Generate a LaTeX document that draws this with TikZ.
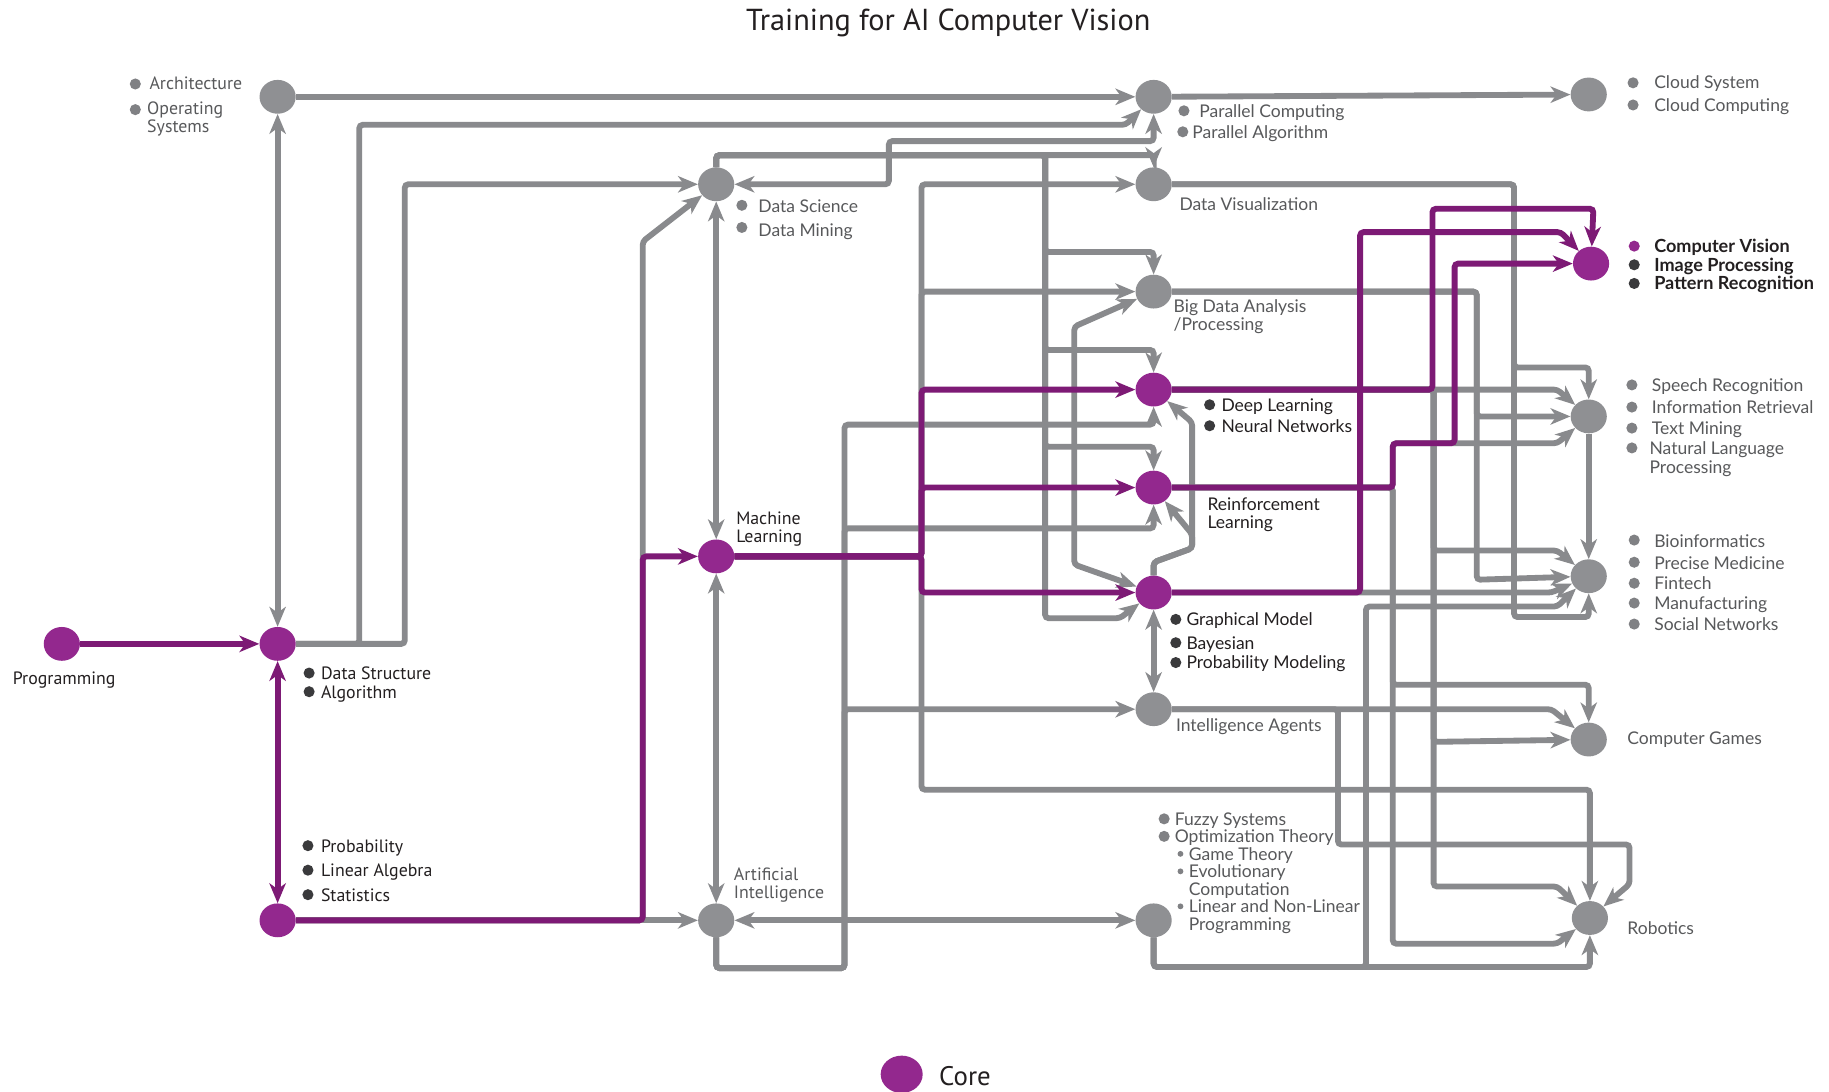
\documentclass[tikz,border=0pt]{standalone}
\usepackage{fontspec}
\setmainfont{PT Sans}
\newfontfamily\lato{Lato}
\usetikzlibrary{arrows.meta,shapes.geometric,backgrounds}
\definecolor{linegray}{HTML}{898A8D}
\definecolor{nodegray}{HTML}{8F9093}
\definecolor{linepurple}{HTML}{7D1A75}
\definecolor{nodepurple}{HTML}{93288E}
\definecolor{textgray}{HTML}{58595B}
\definecolor{textblack}{HTML}{231F20}
\definecolor{bulgray}{HTML}{808184}
\definecolor{buldark}{HTML}{3A3A3C}
\begin{document}
\begin{tikzpicture}[x=1pt,y=-1pt,
  gnode/.style={ellipse, fill=nodegray, minimum width=31pt, minimum height=29pt, inner sep=0pt},
  pnode/.style={gnode, fill=nodepurple},
  tip/.tip={Stealth[length=17pt,width=14pt,inset=5pt]},
  glin/.style={draw=linegray, line width=5pt, rounded corners=3pt},
  garr/.style={glin, -tip},
  gbi/.style={glin, tip-tip},
  plin/.style={draw=linepurple, line width=5pt, rounded corners=3pt},
  parr/.style={plin, -tip},
  pbi/.style={plin, tip-tip},
  gtx/.style={anchor=mid west, inner sep=0pt, yshift=-3pt, text=textgray, font=\lato\fontsize{15}{17}\selectfont},
  btx/.style={anchor=mid west, inner sep=0pt, yshift=-3pt, text=textblack, font=\lato\fontsize{15}{17}\selectfont},
  mgtx/.style={anchor=mid west, inner sep=0pt, yshift=-3pt, text=textgray, font=\fontsize{15.3}{17}\selectfont},
  mbtx/.style={anchor=mid west, inner sep=0pt, yshift=-3pt, text=textblack, font=\fontsize{15.3}{17}\selectfont},
  cvtx/.style={anchor=mid west, inner sep=0pt, yshift=-3pt, text=textblack, font=\lato\bfseries\fontsize{15.5}{17}\selectfont},
  bulg/.style={circle, fill=bulgray, minimum size=9.5pt, inner sep=0pt},
  buld/.style={circle, fill=buldark, minimum size=9.5pt, inner sep=0pt},
  bulp/.style={circle, fill=nodepurple, minimum size=9.5pt, inner sep=0pt},
  bsmall/.style={circle, fill=bulgray, minimum size=5pt, inner sep=0pt}
]
\useasboundingbox (0,0) rectangle (1568,936);

% ---------- nodes ----------
\node[pnode] (prog) at (53,552) {};
\node[pnode] (ds) at (238,552) {};
\node[gnode] (arch) at (238,83) {};
\node[pnode] (math) at (238,789) {};
\node[gnode] (dsci) at (614,158) {};
\node[pnode] (ml) at (614,477) {};
\node[gnode] (ai) at (614,789) {};
\node[gnode] (par) at (989,83) {};
\node[gnode] (cloud) at (1362,81) {};
\node[gnode] (dvis) at (989,158) {};
\node[gnode] (big) at (989,250) {};
\node[pnode] (dl) at (989,334) {};
\node[pnode] (rl) at (989,418) {};
\node[pnode] (gm) at (989,508) {};
\node[gnode] (ia) at (989,608) {};
\node[gnode] (opt) at (989,789) {};
\node[pnode] (cv) at (1364,226) {};
\node[gnode] (nlp) at (1362,357) {};
\node[gnode] (bio) at (1362,494) {};
\node[gnode] (games) at (1362,634) {};
\node[gnode] (rob) at (1363,787) {};

% ---------- title & legend ----------
\node[text=textblack, font=\fontsize{26}{30}\selectfont] (title) at (813,20) {Training for AI Computer Vision};
\node[pnode, minimum width=36pt, minimum height=32pt] (legend) at (773,921) {};
\node[anchor=mid west, inner sep=0pt, yshift=-6pt, text=textblack, font=\fontsize{23}{26}\selectfont] (t-core) at (805,922) {Core};

% ---------- labels ----------
\node[bulg] (b-arch1) at (116,72) {};
\node[mgtx] (t-arch1) at (128,71) {Architecture};
\node[bulg] (b-arch2) at (116,94) {};
\node[mgtx] (t-arch2) at (126,93) {Operating};
\node[mgtx] (t-arch3) at (126,108) {Systems};

\node[bulg] (b-cl1) at (1400,71) {};
\node[gtx] (t-cl1) at (1418,70) {Cloud System};
\node[bulg] (b-cl2) at (1400,90) {};
\node[gtx] (t-cl2) at (1418,90) {Cloud Computing};

\node[bulg] (b-pa1) at (1015,95) {};
\node[gtx] (t-pa1) at (1028,95) {Parallel Computing};
\node[bulg] (b-pa2) at (1014,113) {};
\node[gtx] (t-pa2) at (1022,113) {Parallel Algorithm};

\node[bulg] (b-ds1) at (636,176) {};
\node[gtx] (t-ds1) at (650,177) {Data Science};
\node[bulg] (b-ds2) at (636,195) {};
\node[gtx] (t-ds2) at (650,197) {Data Mining};

\node[gtx] (t-dv) at (1011,175) {Data Visualization};
\node[gtx] (t-bd1) at (1006,262) {Big Data Analysis};
\node[gtx] (t-bd2) at (1006,278) {/Processing};

\node[bulp] (b-cv1) at (1401,211) {};
\node[cvtx] (t-cv1) at (1418,211) {Computer Vision};
\node[buld] (b-cv2) at (1401,227) {};
\node[cvtx] (t-cv2) at (1418,227) {Image Processing};
\node[buld] (b-cv3) at (1401,243) {};
\node[cvtx] (t-cv3) at (1418,243) {Pattern Recognition};

\node[buld] (b-dl1) at (1037,347) {};
\node[btx] (t-dl1) at (1047,347) {Deep Learning};
\node[buld] (b-dl2) at (1037,365) {};
\node[btx] (t-dl2) at (1047,365) {Neural Networks};

\node[btx] (t-rl1) at (1035,432) {Reinforcement};
\node[btx] (t-rl2) at (1035,448) {Learning};

\node[bulg] (b-nl1) at (1399,330) {};
\node[gtx] (t-nl1) at (1416,330) {Speech Recognition};
\node[bulg] (b-nl2) at (1399,349) {};
\node[gtx] (t-nl2) at (1416,349) {Information Retrieval};
\node[bulg] (b-nl3) at (1399,367) {};
\node[gtx] (t-nl3) at (1416,367) {Text Mining};
\node[bulg] (b-nl4) at (1399,384) {};
\node[gtx] (t-nl4) at (1414,384) {Natural Language};
\node[gtx] (t-nl5) at (1414,400) {Processing};

\node[bulg] (b-bi1) at (1401,463) {};
\node[gtx] (t-bi1) at (1418,464) {Bioinformatics};
\node[bulg] (b-bi2) at (1401,482) {};
\node[gtx] (t-bi2) at (1418,483) {Precise Medicine};
\node[bulg] (b-bi3) at (1401,500) {};
\node[gtx] (t-bi3) at (1418,500) {Fintech};
\node[bulg] (b-bi4) at (1401,517) {};
\node[gtx] (t-bi4) at (1418,517) {Manufacturing};
\node[bulg] (b-bi5) at (1401,535) {};
\node[gtx] (t-bi5) at (1418,535) {Social Networks};

\node[mbtx] (t-ml1) at (631,444) {Machine};
\node[mbtx] (t-ml2) at (631,460) {Learning};

\node[buld] (b-gm1) at (1008,531) {};
\node[btx] (t-gm1) at (1017,531) {Graphical Model};
\node[buld] (b-gm2) at (1008,551) {};
\node[btx] (t-gm2) at (1017,551) {Bayesian};
\node[buld] (b-gm3) at (1008,568) {};
\node[btx] (t-gm3) at (1017,568) {Probability Modeling};

\node[gtx] (t-ia) at (1008,622) {Intelligence Agents};
\node[gtx] (t-games) at (1395,633) {Computer Games};
\node[gtx] (t-rob) at (1395,796) {Robotics};

\node[buld] (b-dst1) at (265,577) {};
\node[mbtx] (t-dst1) at (275,577) {Data Structure};
\node[buld] (b-dst2) at (265,593) {};
\node[mbtx] (t-dst2) at (275,593) {Algorithm};

\node[text=textblack, inner sep=0pt, yshift=-2pt, font=\fontsize{15.3}{17}\selectfont] (t-prog) at (55,581) {Programming};

\node[buld] (b-ma1) at (264,725) {};
\node[mbtx] (t-ma1) at (275,725) {Probability};
\node[buld] (b-ma2) at (264,746) {};
\node[mbtx] (t-ma2) at (275,746) {Linear Algebra};
\node[buld] (b-ma3) at (264,767) {};
\node[mbtx] (t-ma3) at (275,767) {Statistics};

\node[mgtx] (t-ai1) at (629,749) {Artificial};
\node[mgtx] (t-ai2) at (629,765) {Intelligence};

\node[bulg] (b-op1) at (998,702) {};
\node[gtx] (t-op1) at (1007,702) {Fuzzy Systems};
\node[bulg] (b-op2) at (998,717) {};
\node[gtx] (t-op2) at (1007,717) {Optimization Theory};
\node[bsmall] (b-op3) at (1012,732) {};
\node[gtx] (t-op3) at (1019,732) {Game Theory};
\node[bsmall] (b-op4) at (1012,747) {};
\node[gtx] (t-op4) at (1019,747) {Evolutionary};
\node[gtx] (t-op5) at (1019,762) {Computation};
\node[bsmall] (b-op6) at (1012,777) {};
\node[gtx] (t-op6) at (1019,777) {Linear and Non-Linear};
\node[gtx] (t-op7) at (1019,792) {Programming};

% ---------- connectors ----------
\begin{scope}[on background layer]
\fill[white] (0,0) rectangle (1568,936);
% gray
\draw[gbi] (arch) -- (ds);
\draw[garr] (arch) -- (par);
\draw[garr] (par) -- (cloud);
\draw[garr] (ds) -- (308,552) -- (308,107) -- (965,107) -- (par);
\draw[garr] (ds) -- (347,552) -- (347,158) -- (dsci);
\draw[gbi] (dsci) -- (762,158) -- (762,121) -- (989,121) -- (par);
\draw[garr] (dsci) -- (614,133) -- (989,133) -- (dvis);
\draw[gbi] (dsci) -- (ml);
\draw[gbi] (ml) -- (ai);
\draw[gbi] (ai) -- (opt);
\draw[garr] (math) -- (ai);
\draw[garr] (math) -- (551,789) -- (551,207) -- (dsci);
\draw[garr] (ai) -- (614,830) -- (724,830) -- (724,364) -- (989,364) -- (dl);
\draw[garr] (ai) -- (614,830) -- (724,830) -- (724,453) -- (989,453) -- (rl);
\draw[garr] (ai) -- (614,830) -- (724,830) -- (724,608) -- (ia);
\draw[garr] (ml) -- (790,477) -- (790,158) -- (dvis);
\draw[garr] (ml) -- (790,477) -- (790,250) -- (big);
\draw[garr] (ml) -- (790,477) -- (790,677) -- (1363,677) -- (rob);
\draw[garr] (dsci) -- (614,133) -- (896,133) -- (896,216) -- (989,216) -- (big);
\draw[garr] (dsci) -- (614,133) -- (896,133) -- (896,300) -- (989,300) -- (dl);
\draw[garr] (dsci) -- (614,133) -- (896,133) -- (896,383) -- (989,383) -- (rl);
\draw[garr] (dsci) -- (614,133) -- (896,133) -- (896,530) -- (960,530) -- (gm);
\draw[gbi] (big) -- (921,280) -- (921,484) -- (gm);
\draw[garr] (gm) -- (989,482) -- (1022,470) -- (1022,362) -- (dl);
\draw[garr] (gm) -- (989,482) -- (1022,470) -- (1022,458) -- (rl);
\draw[gbi] (gm) -- (ia);
\draw[garr] (dl) -- (1335,334) -- (nlp);
\draw[garr] (dl) -- (1229,334) -- (1229,472) -- (1335,472) -- (bio);
\draw[garr] (dl) -- (1229,334) -- (1229,636) -- (games);
\draw[garr] (dl) -- (1229,334) -- (1229,760) -- (1335,760) -- (rob);
\draw[garr] (rl) -- (1194,418) -- (1194,380) -- (1335,380) -- (nlp);
\draw[garr] (rl) -- (1194,418) -- (1194,587) -- (1362,587) -- (games);
\draw[garr] (rl) -- (1194,418) -- (1194,809) -- (1335,809) -- (rob);
\draw[garr] (gm) -- (1330,508) -- (bio);
\draw[garr] (big) -- (1266,250) -- (1266,357) -- (nlp);
\draw[garr] (big) -- (1266,250) -- (1266,497) -- (bio);
\draw[garr] (dvis) -- (1298,158) -- (1298,315) -- (1362,315) -- (nlp);
\draw[garr] (dvis) -- (1298,158) -- (1298,529) -- (1362,529) -- (bio);
\draw[garr] (nlp) -- (bio);
\draw[garr] (opt) -- (989,829) -- (1171,829) -- (1171,520) -- (1335,520) -- (bio);
\draw[garr] (opt) -- (989,829) -- (1363,829) -- (rob);
\draw[garr] (ia) -- (1330,608) -- (games);
\draw[garr] (ia) -- (1147,608) -- (1147,724) -- (1397,724) -- (1397,758) -- (rob);
% purple (core)
\draw[parr] (prog) -- (ds);
\draw[pbi] (ds) -- (math);
\draw[parr] (math) -- (551,789) -- (551,477) -- (ml);
\draw[parr] (ml) -- (790,477) -- (790,334) -- (dl);
\draw[parr] (ml) -- (790,477) -- (790,418) -- (rl);
\draw[parr] (ml) -- (790,477) -- (790,508) -- (gm);
\draw[parr] (dl) -- (1228,334) -- (1228,179) -- (1366,179) -- (cv);
\draw[parr] (gm) -- (1166,508) -- (1166,199) -- (1338,199) -- (cv);
\draw[parr] (rl) -- (1194,418) -- (1194,380) -- (1247,380) -- (1247,226) -- (cv);
\end{scope}
\end{tikzpicture}
\end{document}
